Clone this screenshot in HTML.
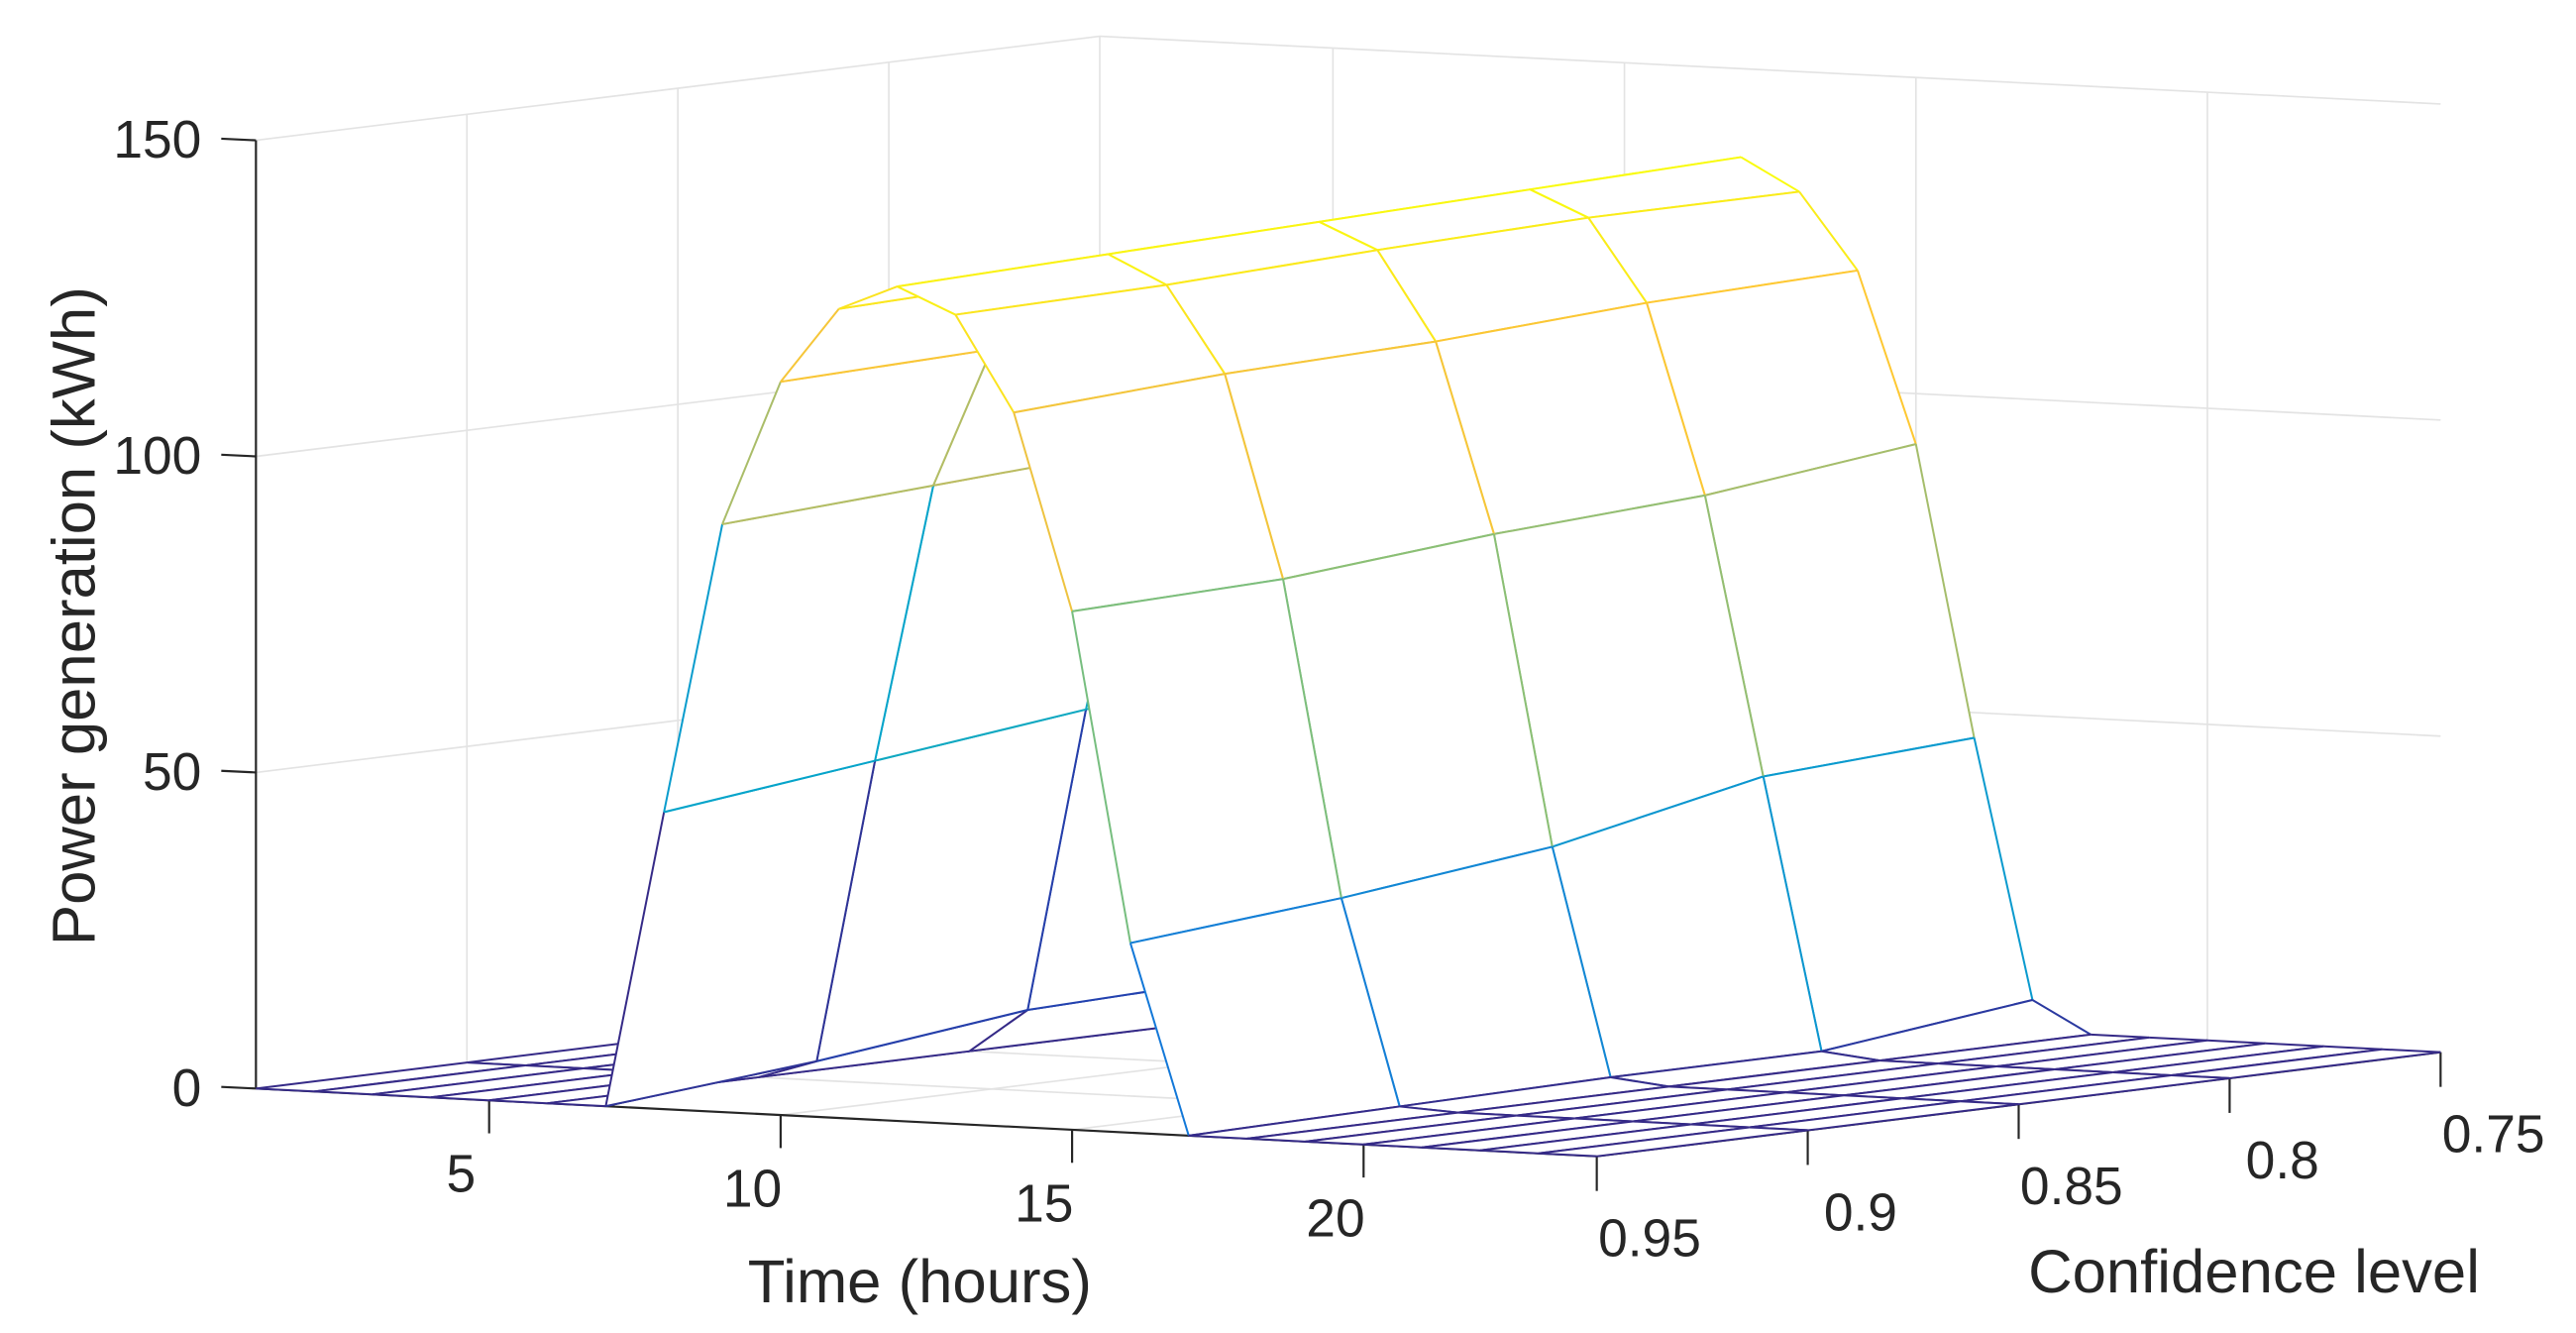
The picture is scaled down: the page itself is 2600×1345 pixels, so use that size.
<!DOCTYPE html>
<html><head><meta charset="utf-8">
<style>
html,body{margin:0;padding:0;background:#fff;}
svg{display:block;}
text{font-family:"Liberation Sans",Arial,sans-serif;fill:#262626;}
</style></head>
<body>
<svg id="chart" width="2600" height="1345" viewBox="0 0 1560 807" xmlns="http://www.w3.org/2000/svg">
<g id="grid"></g>
<g id="axes"></g>
<g id="surface"></g>
<g id="labels"></g>
</svg>
<script>
const times = [1,2,3,4,5,6,7,8,9,10,11,12,13,14,15,16,17,18,19,20,21,22,23,24];
const confs = [0.95,0.9,0.85,0.8,0.75];
const row095 = [0,0,0,0,0,0,0,47,93,116,128,132,128,113,82,30,0,0,0,0,0,0,0,0];
const row090 = [0,0,0,0,0,0,3,51,95,117,129,133,128.6,115,83,33,0.5,0,0,0,0,0,0,0];
const row085 = [0,0,0,0,0,0,7,55,97,118,130,134,130,116,86,37,1,0,0,0,0,0,0,0];
const row080 = [0,0,0,0,0,0,8,58,99,119,131,135,131,118,88,44,1,0,0,0,0,0,0,0];
const row075 = [0,0,0,0,0,0,10,61,101,120,132,136,131,119,92,46,5,0,0,0,0,0,0,0];
const rows = [row095,row090,row085,row080,row075];
const zTicks = [0,50,100,150];
const tTicks = [5,10,15,20];
const cTicks = [0.95,0.9,0.85,0.8,0.75];
const cTickLabels = ["0.95","0.9","0.85","0.8","0.75"];

const NS="http://www.w3.org/2000/svg";
function px(t,c,z){
  const k=(0.95-c)/0.05;
  return [155+(t-1)*35.304+k*127.75, 659+(t-1)*1.783-k*15.75-z*3.827];
}
function mk(tag,parent){const e=document.createElementNS(NS,tag);parent.appendChild(e);return e;}
function line(parent,a,b,col,w){
  const l=mk('line',parent);
  l.setAttribute('x1',a[0]);l.setAttribute('y1',a[1]);l.setAttribute('x2',b[0]);l.setAttribute('y2',b[1]);
  l.setAttribute('stroke',col);l.setAttribute('stroke-width',w);
  return l;
}
const stops=[[0,[53,42,135]],[0.125,[15,92,221]],[0.25,[20,129,214]],[0.375,[6,164,202]],[0.5,[46,183,164]],[0.625,[135,191,119]],[0.75,[209,187,89]],[0.875,[254,200,50]],[1,[249,251,14]]];
const zmax=136;
function parula(v){
  let f=Math.max(0,Math.min(1,v/zmax));
  for(let i=1;i<stops.length;i++){
    if(f<=stops[i][0]){
      const a=stops[i-1],b=stops[i];const u=(f-a[0])/(b[0]-a[0]);
      const c=a[1].map((x,j)=>Math.round(x+(b[1][j]-x)*u));
      return `rgb(${c[0]},${c[1]},${c[2]})`;
    }
  }
  return 'rgb(249,251,14)';
}
const grid=document.getElementById('grid'), axes=document.getElementById('axes'), surf=document.getElementById('surface'), labels=document.getElementById('labels');
const gc='#e3e3e3';
zTicks.forEach(z=>{
  if(z>0){
    const l1=line(grid,px(1,0.95,z),px(1,0.75,z),gc,1);
    
    
  }
  const l2=line(grid,px(1,0.75,z),px(24,0.75,z),gc,1);
  
  
});
cTicks.forEach(c=>{
  const l=line(grid,px(1,c,0),px(1,c,150),gc,1);
  
  
  const f=line(grid,px(1,c,0),px(24,c,0),gc,1);
  
  
});
tTicks.forEach(t=>{
  const l=line(grid,px(t,0.75,0),px(t,0.75,150),gc,1);
  
  
  const f=line(grid,px(t,0.95,0),px(t,0.75,0),gc,1);
  
  
});
const ac='#262626';
let ax=line(axes,px(1,0.95,0),px(1,0.95,150),ac,1.3);


ax=line(axes,px(1,0.95,0),px(24,0.95,0),ac,1.3);


ax=line(axes,px(24,0.95,0),px(24,0.75,0),ac,1.3);


zTicks.forEach(z=>{
  const p=px(1,0.95,z);
  const tk=line(axes,p,[p[0]-21,p[1]-1],ac,1.3);
  
  
  const tx=mk('text',labels);
  tx.setAttribute('x',p[0]-33);tx.setAttribute('y',p[1]);
  tx.setAttribute('text-anchor','end');tx.setAttribute('dominant-baseline','central');
  tx.setAttribute('font-size','32');tx.textContent=z;
  
  
});
tTicks.forEach(t=>{
  const p=px(t,0.95,0);
  const tk=line(axes,p,[p[0],p[1]+20],ac,1.3);
  
  
  const tx=mk('text',labels);
  tx.setAttribute('x',p[0]-17);tx.setAttribute('y',p[1]+45);
  tx.setAttribute('text-anchor','middle');tx.setAttribute('dominant-baseline','central');
  tx.setAttribute('font-size','32');tx.textContent=t;
  
  
});
cTicks.forEach((c,i)=>{
  const p=px(24,c,0);
  const tk=line(axes,p,[p[0],p[1]+21],ac,1.3);
  
  
  const tx=mk('text',labels);
  tx.setAttribute('x',p[0]+32);tx.setAttribute('y',p[1]+50);
  tx.setAttribute('text-anchor','middle');tx.setAttribute('dominant-baseline','central');
  tx.setAttribute('font-size','32');tx.textContent=cTickLabels[i];
  
  
});
const quads=[];
for(let j=0;j<confs.length-1;j++){
  for(let i=0;i<times.length-1;i++){
    const g=px((times[i]+times[i+1])/2,(confs[j]+confs[j+1])/2,0);
    quads.push({i,j,d:g[1]});
  }
}
quads.sort((a,b)=>a.d-b.d);
quads.forEach(q=>{
  const {i,j}=q;
  const t0=times[i],t1=times[i+1],c0=confs[j],c1=confs[j+1];
  const A=px(t0,c0,rows[j][i]),B=px(t1,c0,rows[j][i+1]),C=px(t1,c1,rows[j+1][i+1]),D=px(t0,c1,rows[j+1][i]);
  const g=mk('g',surf);
  
  
  const poly=mk('polygon',g);
  poly.setAttribute('points',[A,B,C,D].map(p=>p.join(',')).join(' '));
  poly.setAttribute('fill','#fff');poly.setAttribute('stroke','none');
  line(g,A,B,parula(rows[j][i]),1.2);
  line(g,D,C,parula(rows[j+1][i]),1.2);
  line(g,D,A,parula(rows[j+1][i]),1.2);
  line(g,C,B,parula(rows[j+1][i+1]),1.2);
});
let tt=mk('text',labels);
tt.setAttribute('x',557);tt.setAttribute('y',776);tt.setAttribute('text-anchor','middle');tt.setAttribute('dominant-baseline','central');
tt.setAttribute('font-size','37');tt.textContent='Time (hours)';


tt=mk('text',labels);
tt.setAttribute('x',1365);tt.setAttribute('y',770);tt.setAttribute('text-anchor','middle');tt.setAttribute('dominant-baseline','central');
tt.setAttribute('font-size','37');tt.textContent='Confidence level';


tt=mk('text',labels);
tt.setAttribute('x',0);tt.setAttribute('y',0);tt.setAttribute('text-anchor','middle');tt.setAttribute('dominant-baseline','central');
tt.setAttribute('transform','translate(45,373) rotate(-90)');
tt.setAttribute('font-size','37');tt.textContent='Power generation (kWh)';


</script>
</body></html>
